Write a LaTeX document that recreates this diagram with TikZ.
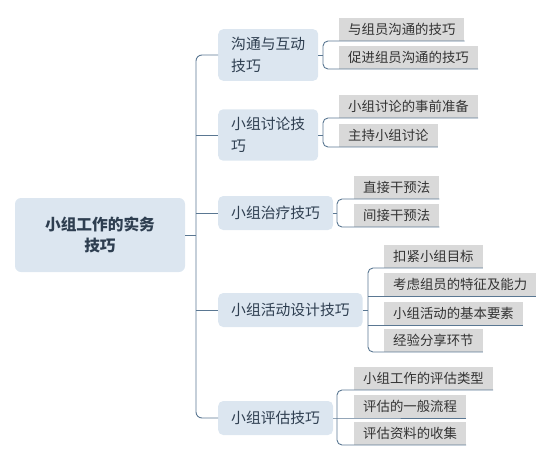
\documentclass[tikz,border=0pt]{standalone}
\usepackage{fontspec}
\setmainfont{Noto Sans CJK SC}
\usepackage{tikz}
\usetikzlibrary{positioning}

\definecolor{topicfill}{HTML}{DCE6F0}
\definecolor{leaffill}{HTML}{D9D9D9}
\definecolor{linkcolor}{HTML}{5A7792}
\definecolor{textdark}{HTML}{2E3E50}

\tikzset{
  root/.style={fill=topicfill, rounded corners=6pt, minimum width=170pt, minimum height=74pt,
    align=center, text=textdark, font=\fontsize{15.7}{21.5}\selectfont\bfseries},
  topic/.style={fill=topicfill, rounded corners=5pt, inner xsep=13pt, inner ysep=8pt,
    minimum height=34pt, align=left, anchor=west, text=textdark,
    font=\fontsize{14.8}{22}\selectfont},
  subtopic/.style={fill=leaffill, inner xsep=9pt, minimum height=23pt, anchor=south west,
    text=black!80, font=\fontsize{13.4}{16}\selectfont},
  link/.style={draw=linkcolor, line width=0.9pt},
}

\begin{document}
\begin{tikzpicture}[x=1pt, y=-1pt]
  \useasboundingbox (0,0) rectangle (552,461);

  \node[root] (root) at (100,235) {小组工作的实务\\技巧};

  \node[topic] (comm)   at (218,55)  {沟通与互动\\技巧};
  \node[topic] (discuss) at (218,135) {小组讨论技\\巧};
  \node[topic] (therapy) at (218,213) {小组治疗技巧};
  \node[topic] (design)  at (218,310) {小组活动设计技巧};
  \node[topic] (assess)  at (218,418) {小组评估技巧};

  \node[subtopic] (comm1) at (339,41)  {与组员沟通的技巧};
  \node[subtopic] (comm2) at (339,69)  {促进组员沟通的技巧};
  \node[subtopic] (discuss1) at (339,118) {小组讨论的事前准备};
  \node[subtopic] (discuss2) at (339,147) {主持小组讨论};
  \node[subtopic] (therapy1) at (354,199) {直接干预法};
  \node[subtopic] (therapy2) at (354,227) {间接干预法};
  \node[subtopic] (design1) at (384,268) {扣紧小组目标};
  \node[subtopic] (design2) at (384,296) {考虑组员的特征及能力};
  \node[subtopic] (design3) at (384,325) {小组活动的基本要素};
  \node[subtopic] (design4) at (384,352) {经验分享环节};
  \node[subtopic] (assess1) at (354,390) {小组工作的评估类型};
  \node[subtopic] (assess2) at (354,418) {评估的一般流程};
  \node[subtopic] (assess3) at (354,445) {评估资料的收集};

  % trunk
  \coordinate (trunk) at (196,235);
  \draw[link] (root.east) -- (trunk);
  \draw[link, rounded corners=6pt] (comm.west) -| (trunk) |- (assess.west);
  \foreach \n in {discuss, therapy, design}
    \draw[link] (trunk |- \n.west) -- (\n.west);

  % brackets
  \coordinate (bcomm) at (323,55);
  \coordinate (bdiscuss) at (323,135);
  \coordinate (btherapy) at (337,213);
  \coordinate (bdesign) at (368,310);
  \coordinate (bassess) at (337,418);

  \draw[link, rounded corners=5pt] (comm1.south east) -| (bcomm) |- (comm2.south east);
  \draw[link] (comm.east) -- (bcomm);
  \draw[link, rounded corners=5pt] (discuss1.south east) -| (bdiscuss) |- (discuss2.south east);
  \draw[link] (discuss.east) -- (bdiscuss);
  \draw[link, rounded corners=5pt] (therapy1.south east) -| (btherapy) |- (therapy2.south east);
  \draw[link] (therapy.east) -- (btherapy);
  \draw[link, rounded corners=5pt] (design1.south east) -| (bdesign) |- (design4.south east);
  \draw[link] (design.east) -- (bdesign);
  \draw[link] (bdesign |- design2.south) -- (design2.south east);
  \draw[link] (bdesign |- design3.south) -- (design3.south east);
  \draw[link, rounded corners=5pt] (assess1.south east) -| (bassess) |- (assess3.south east);
  \draw[link] (assess.east) -- (bassess) -- (assess2.south east);
\end{tikzpicture}
\end{document}
